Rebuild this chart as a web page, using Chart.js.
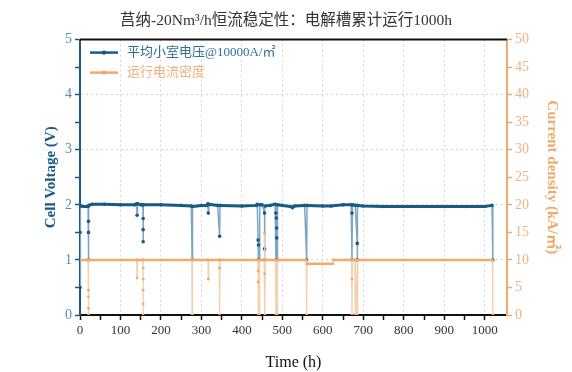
<!DOCTYPE html>
<html>
<head>
<meta charset="utf-8">
<script src="https://cdn.jsdelivr.net/npm/chart.js@4.4.1/dist/chart.umd.min.js"></script>
<style>
  html, body { margin: 0; padding: 0; background: #fff; }
  #wrap { width: 572px; height: 372px; position: relative; }
</style>
</head>
<body>
<div id="wrap"><canvas id="chart"></canvas></div>
<script>
// Data
const titleText = "莒纳-20Nm³/h恒流稳定性：电解槽累计运行1000h";
const voltageLabel = "平均小室电压@10000A/㎡";
const currentLabel = "运行电流密度";

const timeV = [0, 0, 2, 10, 20, 21, 21, 21, 22, 30, 60, 100, 135, 140, 141, 142, 150, 155,
  156, 156, 156, 157, 200, 250, 275, 277, 278, 300, 314, 316, 317, 318, 340, 345, 346, 400,
  436, 438, 440, 440, 441, 443, 444, 450, 456, 456, 456, 457, 470, 482, 484, 484, 485, 486,
  486, 487, 488, 500, 520, 525, 530, 555, 560, 561, 600, 620, 650, 670, 672, 672, 673, 680,
  685, 685, 686, 700, 750, 800, 850, 900, 950, 1000, 1018, 1020];
const voltage = [0.5, 1.5, 1.98, 1.97, 1.97, 1.7, 1.5, 1.0, 1.99, 2.01, 2.01, 2.0, 2.0, 2.02, 1.81, 2.02, 2.0, 2.0,
  1.75, 1.55, 1.33, 2.0, 2.0, 1.99, 1.98, 1.0, 1.97, 1.99, 1.99, 2.02, 1.85, 2.01, 1.99, 1.43, 1.99, 1.98,
  1.99, 2.01, 1.36, 1.0, 1.27, 1.0, 2.0, 2.0, 1.85, 1.2, 1.0, 1.98, 1.99, 2.01, 1.85, 1.0, 1.76, 1.58,
  1.4, 1.0, 2.0, 1.99, 1.97, 1.95, 1.98, 1.99, 1.0, 1.99, 1.98, 1.98, 2.0, 2.0, 1.85, 1.0, 2.0, 1.99,
  1.3, 1.0, 1.99, 1.98, 1.97, 1.97, 1.97, 1.97, 1.97, 1.97, 1.99, 1.0];

const timeI = [0, 20, 21, 21, 21, 21, 22, 140, 141, 142, 155, 156, 156, 156, 156, 156, 157,
  276, 277, 278, 316, 317, 318, 344, 345, 345, 346, 439, 440, 440, 440, 441, 443, 444,
  455, 456, 456, 457, 458, 483, 484, 485, 487, 488, 559, 560, 561, 625, 626,
  671, 672, 672, 673, 679, 680, 681, 685, 686, 1019, 1020];
const current = [10, 10, 4.5, 3.3, 1.2, 0, 10, 10, 6.7, 10, 10, 8.5, 6.5, 4.5, 2, 0, 10,
  10, 0, 10, 10, 6.5, 10, 10, 8.5, 0, 10, 10, 8, 6, 0, 10, 0, 10,
  10, 14.8, 7.5, 0, 10, 10, 0, 10, 0, 10, 10, 0, 9.3, 9.3, 10,
  10, 6.5, 0, 10, 10, 0, 10, 0, 10, 10, 0];

const xMax = 1055;
const xStep = 50;
const vMax = 5;
const vStep = 0.5;
const iMax = 50;
const iStep = 2.5;

const BLUE = "#185a83";
const BLUE_LIGHT = "#7ea6c2";
const BLUE_TICK = "#5a8db0";
const ORANGE = "#f0aa6c";
const ORANGE_LIGHT = "#f5d0ad";
const ORANGE_TICK = "#f0b27c";
const SERIF = "'Liberation Serif', 'Noto Sans CJK SC', serif";

const isMajor = (v, major) => Math.abs(v / major - Math.round(v / major)) < 1e-6;
const keepSteps = step => scale => {
  scale.ticks = scale.ticks.filter(t => isMajor(t.value, step));
};
const isVertical = ctx => {
  const dx = Math.abs(ctx.p1.x - ctx.p0.x);
  const dy = Math.abs(ctx.p1.y - ctx.p0.y);
  return dy > 2 * dx + 2;
};

// legend drawn inside the plot, top-left
const insideLegend = {
  id: "insideLegend",
  afterDatasetsDraw(chart) {
    const { ctx, chartArea } = chart;
    const items = [
      { text: voltageLabel, line: BLUE, dot: BLUE, color: "#2f6f98" },
      { text: currentLabel, line: ORANGE, dot: ORANGE, color: ORANGE_TICK }
    ];
    ctx.save();
    ctx.font = "13px " + SERIF;
    ctx.textBaseline = "middle";
    items.forEach((it, i) => {
      const y = chartArea.top + 13 + i * 20;
      const x0 = chartArea.left + 10;
      ctx.strokeStyle = it.line;
      ctx.lineWidth = 2.5;
      ctx.beginPath();
      ctx.moveTo(x0, y);
      ctx.lineTo(x0 + 28, y);
      ctx.stroke();
      ctx.fillStyle = it.dot;
      ctx.beginPath();
      ctx.arc(x0 + 14, y, 2.2, 0, Math.PI * 2);
      ctx.fill();
      ctx.fillStyle = it.color;
      ctx.fillText(it.text, x0 + 37, y);
    });
    // top frame line
    ctx.strokeStyle = "#111";
    ctx.lineWidth = 2;
    ctx.beginPath();
    ctx.moveTo(chartArea.left, chartArea.top);
    ctx.lineTo(chartArea.right, chartArea.top);
    ctx.stroke();
    ctx.restore();
  }
};

const canvas = document.getElementById("chart");
const chart = new Chart(canvas.getContext("2d"), {
  type: "line",
  data: {
    datasets: [
      {
        label: voltageLabel,
        data: timeV.map((t, i) => ({ x: t, y: voltage[i] })),
        yAxisID: "y",
        order: 2,
        borderColor: BLUE,
        backgroundColor: BLUE,
        borderWidth: 3,
        pointRadius: 1.8,
        pointBorderWidth: 0,
        tension: 0,
        segment: {
          borderColor: ctx => isVertical(ctx) ? BLUE_LIGHT : BLUE,
          borderWidth: ctx => isVertical(ctx) ? 1.5 : 3
        }
      },
      {
        label: currentLabel,
        data: timeI.map((t, i) => ({ x: t, y: current[i] })),
        yAxisID: "y1",
        order: 1,
        borderColor: ORANGE,
        backgroundColor: ORANGE,
        borderWidth: 2.5,
        pointRadius: 1.4,
        pointBorderWidth: 0,
        tension: 0,
        segment: {
          borderColor: ctx => isVertical(ctx) ? ORANGE_LIGHT : ORANGE,
          borderWidth: ctx => isVertical(ctx) ? 1.3 : 2.5
        }
      }
    ]
  },
  options: {
    responsive: true,
    maintainAspectRatio: false,
    animation: false,
    layout: { padding: 0 },
    plugins: {
      legend: { display: false },
      tooltip: { enabled: false },
      title: {
        display: true,
        text: titleText,
        color: "#333",
        font: { family: SERIF, size: 15.5, weight: "normal" },
        padding: { top: 12, bottom: 9 }
      }
    },
    scales: {
      x: {
        type: "linear",
        min: 0,
        max: xMax,
        afterBuildTicks: keepSteps(xStep),
        afterFit: s => { s.height = 57; },
        ticks: {
          stepSize: xStep,
          autoSkip: false,
          maxRotation: 0,
          padding: 3,
          color: "#333",
          font: { family: SERIF, size: 13 },
          callback: v => isMajor(v, 100) ? v : ""
        },
        grid: {
          color: c => (c.tick && isMajor(c.tick.value, 100) && c.tick.value > 0) ? "#d4d4d4" : "rgba(0,0,0,0)",
          tickColor: "#111",
          tickLength: 5,
          tickWidth: 1.5,
          tickBorderDash: []
        },
        border: { color: "#111", width: 2, dash: [2, 3] },
        title: {
          display: true,
          text: "Time (h)",
          color: "#111",
          font: { family: SERIF, size: 16 },
          padding: { top: 10, bottom: 0 }
        }
      },
      y: {
        position: "left",
        min: 0,
        max: vMax,
        afterFit: s => { s.width = 80; },
        ticks: {
          stepSize: vStep,
          padding: 3,
          color: BLUE_TICK,
          font: { family: SERIF, size: 14 },
          callback: v => isMajor(v, 1) ? v : ""
        },
        grid: {
          color: c => (c.tick && isMajor(c.tick.value, 1) && c.tick.value > 0 && c.tick.value < vMax) ? "#d4d4d4" : "rgba(0,0,0,0)",
          tickColor: BLUE,
          tickLength: 5,
          tickWidth: 1.5,
          tickBorderDash: []
        },
        border: { color: BLUE, width: 2, dash: [2, 3] },
        title: {
          display: true,
          text: "Cell Voltage (V)",
          color: BLUE,
          font: { family: SERIF, size: 15, weight: "bold" },
          padding: { top: 42, bottom: 0 }
        }
      },
      y1: {
        position: "right",
        min: 0,
        max: iMax,
        afterFit: s => { s.width = 65; },
        ticks: {
          stepSize: iStep,
          padding: 3,
          color: ORANGE_TICK,
          font: { family: SERIF, size: 14 },
          callback: v => isMajor(v, 5) ? v : ""
        },
        grid: {
          drawOnChartArea: false,
          tickColor: ORANGE,
          tickLength: 5,
          tickWidth: 1.5
        },
        border: { color: ORANGE, width: 2 },
        title: {
          display: true,
          text: "Current density (kA/㎡)",
          color: ORANGE,
          font: { family: SERIF, size: 15, weight: "bold" },
          padding: { top: 11, bottom: 0 }
        }
      }
    }
  },
  plugins: [insideLegend]
});
</script>
</body>
</html>
